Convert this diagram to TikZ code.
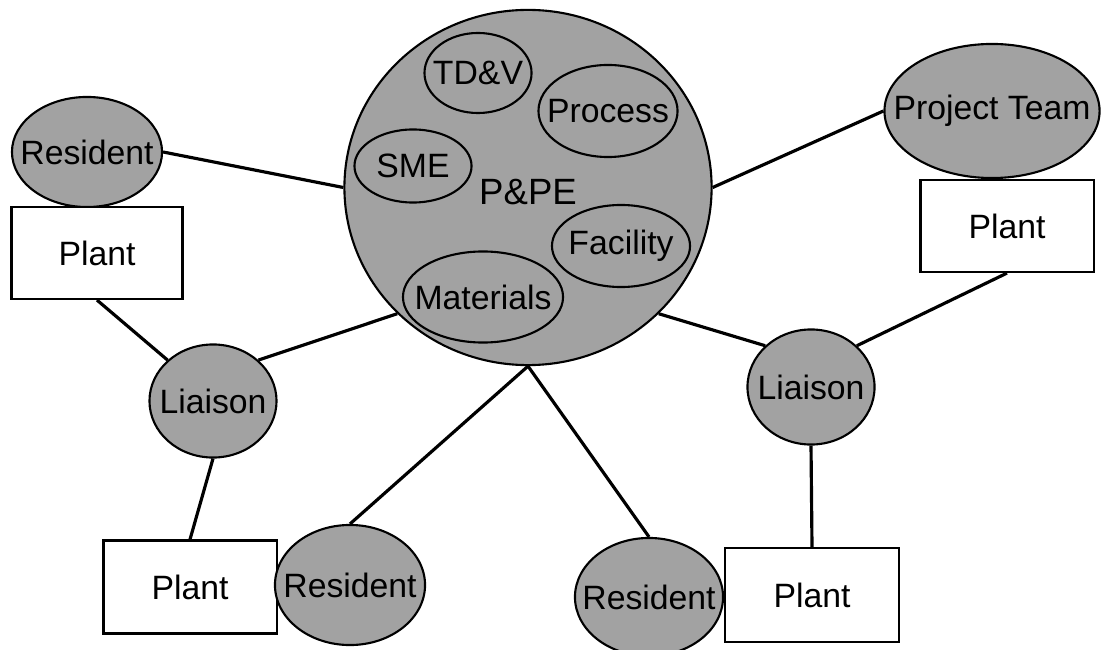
\documentclass[tikz,border=0pt]{standalone}
\usepackage{fontspec}
\setmainfont{Liberation Sans}
\usetikzlibrary{shapes.geometric}
\definecolor{bubblegray}{RGB}{162,162,162}
\newcommand{\zw}[1]{\makebox[0pt][c]{#1}}
\tikzset{
	bubble/.style={ellipse, draw=black, line width=0.6pt, fill=bubblegray, inner sep=0pt, font=\fontsize{9.6}{11}\selectfont},
	plantbox/.style={rectangle, draw=black, line width=0.6pt, fill=white, minimum width=1.73cm, minimum height=0.93cm, inner sep=0pt, font=\fontsize{9.6}{11}\selectfont},
	link/.style={line width=0.9pt}
}

\begin{document}
\begin{tikzpicture}[x=0.01cm, y=-0.01cm]
			%%%%% START %%%%%
			\useasboundingbox (0,0) rectangle (1104,649);
			
			% centre
			\node[bubble, minimum width=3.67cm, minimum height=3.55cm] (pp) at (528,187.5) {};
			\node[font=\fontsize{10.4}{12}\selectfont, inner sep=0pt] (pptext) at (528,192) {P\&PE};
			\node[bubble, minimum width=1.07cm, minimum height=0.80cm] (tdv) at (478,73) {\zw{TD\&V}};
			\node[bubble, minimum width=1.39cm, minimum height=0.92cm] (proc) at (608,111) {\zw{Process}};
			\node[bubble, minimum width=1.17cm, minimum height=0.73cm] (sme) at (413,166) {\zw{SME}};
			\node[bubble, minimum width=1.38cm, minimum height=0.82cm] (fac) at (621,246) {\zw{Facility}};
			\node[bubble, minimum width=1.60cm, minimum height=0.91cm] (mat) at (483,297) {\zw{Materials}};
			
			% left side
			\node[bubble, minimum width=1.50cm, minimum height=1.10cm] (res1) at (87,152) {\zw{Resident}};
			\node[plantbox, minimum width=1.71cm, minimum height=0.92cm] (plant1) at (97,253) {Plant};
			\node[bubble, minimum width=1.27cm, minimum height=1.13cm] (liai1) at (213,401) {\zw{Liaison}};
			\node[plantbox] (plant3) at (190,587) {Plant};
			\node[bubble, minimum width=1.50cm, minimum height=1.20cm] (res2) at (350,585) {\zw{Resident}};
			
			% right side
			\node[bubble, minimum width=2.15cm, minimum height=1.34cm] (pt) at (992,111) {\zw{Project Team}};
			\node[plantbox, minimum height=0.92cm] (plant2) at (1007,226) {Plant};
			\node[bubble, minimum width=1.27cm, minimum height=1.15cm] (liai2) at (811,387) {\zw{Liaison}};
			\node[plantbox, minimum width=1.74cm, minimum height=0.94cm] (plant4) at (812,595) {Plant};
			\node[bubble, minimum width=1.48cm, minimum height=1.18cm] (res3) at (649,597) {\zw{Resident}};
			
			% links
			\draw[link] (res1.east) -- (pp.west);
			\draw[link] (pt.west) -- (pp.east);
			\draw[link] (plant1.south) -- (liai1.138);
			\draw[link] (liai1.42) -- (pp.224);
			\draw[link] (liai1.south) -- (plant3.north);
			\draw[link] (pp.south) -- (res2.north);
			\draw[link] (pp.south) -- (res3.north);
			\draw[link] (pp.-44) -- (liai2.138);
			\draw[link] (plant2.south) -- (liai2.42);
			\draw[link] (liai2.south) -- (plant4.north);
			
			%%%%% END %%%%%
\end{tikzpicture}
\end{document}
